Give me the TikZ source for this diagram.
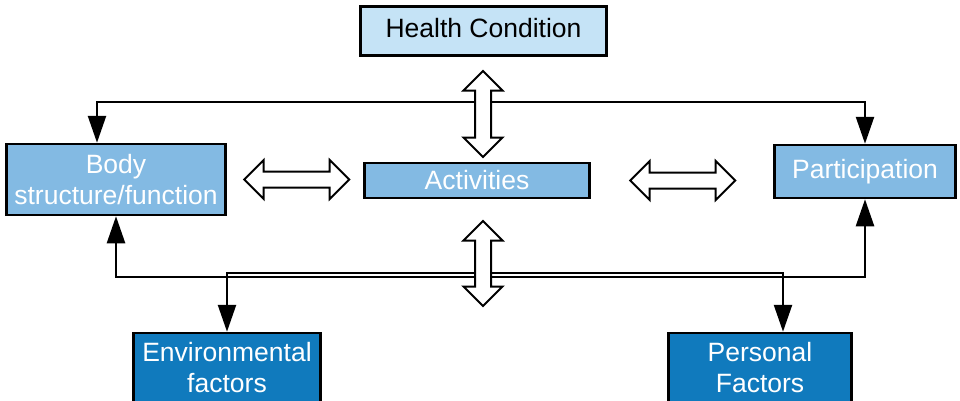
\documentclass[tikz,border=0pt]{standalone}
\usepackage{fontspec}
\setmainfont{Liberation Sans}
\usetikzlibrary{arrows.meta,positioning,shapes.arrows}

\definecolor{condblue}{RGB}{197,227,246}
\definecolor{midblue}{RGB}{131,186,227}
\definecolor{darkblue}{RGB}{16,122,189}

\begin{document}
\begin{tikzpicture}[
    x=1pt, y=-1pt,
    align=center,
    font=\fontsize{26.5}{31}\selectfont,
    cond/.style={rectangle, draw=black, line width=2.5pt, fill=condblue, inner sep=0pt},
    comp/.style={rectangle, draw=black, line width=2.5pt, fill=midblue, text=white, inner sep=0pt},
    factor/.style={rectangle, draw=black, line width=2.5pt, fill=darkblue, text=white, inner sep=0pt},
    link/.style={double arrow, draw=black, line width=2pt, fill=white, inner sep=7pt,
      minimum width=39pt, double arrow head extend=11.5pt},
    flow/.style={-{Triangle[length=27pt,width=18pt]}, line width=2.5pt},
  ]

  \useasboundingbox (0,0) rectangle (960,400);
  \clip (0,0) rectangle (960,400);

  % components
  \node (act)    [comp, minimum width=225pt, minimum height=35pt] at (477,180.5) {Activities};
  \node (health) [cond, minimum width=246pt, minimum height=49pt, text depth=7pt] at (483.5,31) {Health Condition};
  \node (body)   [comp, minimum width=219pt, minimum height=71pt] at (116,179.5) {Body\\structure/function};
  \node (part)   [comp, minimum width=181pt, minimum height=53pt] at (865,171.5) {Participation};

  % contextual factors
  \node (env)    [factor, minimum width=187pt, minimum height=70pt] at (227,368) {Environmental\\factors};
  \node (pers)   [factor, minimum width=183pt, minimum height=70pt] at (760,368) {Personal\\Factors};

  \coordinate (topbus) at (483,102);
  \coordinate (facbus) at (483,273);
  \coordinate (botbus) at (483,277);

  % flow
  \draw[flow] (topbus) -| ([xshift=-19pt]body.north);
  \draw[flow] (topbus) -| (part.north);
  \draw[flow] (botbus) -| (body.south);
  \draw[flow] (botbus) -| (part.south);
  \draw[flow] (facbus) -| (env.north);
  \draw[flow] (facbus) -| ([xshift=23pt]pers.north);

  % two-way links
  \node (bl) [link, minimum height=105pt, right=16pt of body] {};
  \node (pl) [link, minimum height=105pt, right=38pt of act] {};
  \node (hl) [link, minimum height=86pt, shape border rotate=90] at (483,114) {};
  \node (fl) [link, minimum height=85pt, shape border rotate=90] at (483,263.5) {};

\end{tikzpicture}
\end{document}
